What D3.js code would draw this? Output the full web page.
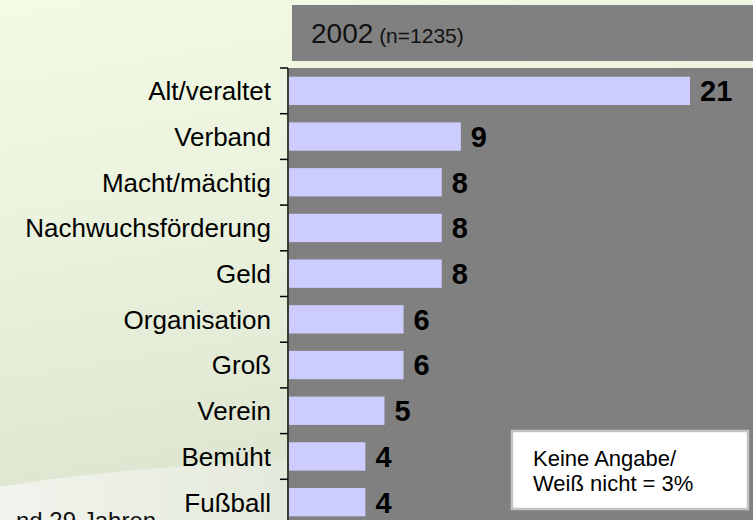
<!DOCTYPE html>
<html>
<head>
<meta charset="utf-8">
<script src="https://cdn.jsdelivr.net/npm/d3@7"></script>
<style>
  html, body { margin: 0; padding: 0; overflow: hidden; background: #eef6e0; }
  svg { display: block; }
</style>
</head>
<body>
<div id="chart"></div>
<script>
// Kategorien und Werte (Prozent), 2002
const categories = ['Alt/veraltet', 'Verband', 'Macht/mächtig', 'Nachwuchsförderung', 'Geld',
  'Organisation', 'Groß', 'Verein', 'Bemüht', 'Fußball'];
const values = [21, 9, 8, 8, 8, 6, 6, 5, 4, 4];
const headerYear = '2002';
const headerN = '(n=1235)';
const noteLines = ['Keine Angabe/', 'Weiß nicht = 3%'];
const footText = 'nd 29 Jahren';

const width = 753, height = 520;
const font = '"Liberation Sans", Arial, Helvetica, sans-serif';

const svg = d3.select('#chart').append('svg')
  .attr('width', width)
  .attr('height', height)
  .attr('viewBox', `0 0 ${width} ${height}`);

// Hintergrund: hellgrüner Verlauf
const defs = svg.append('defs');
const bg = defs.append('linearGradient').attr('id', 'bg')
  .attr('x1', 0).attr('y1', 0).attr('x2', 0.25).attr('y2', 1);
bg.append('stop').attr('offset', 0).attr('stop-color', '#f3fbe5');
bg.append('stop').attr('offset', 0.5).attr('stop-color', '#e9f1dc');
bg.append('stop').attr('offset', 1).attr('stop-color', '#dce4cf');

const swoosh = defs.append('linearGradient').attr('id', 'swoosh')
  .attr('x1', 0).attr('y1', 0).attr('x2', 1).attr('y2', 0);
swoosh.append('stop').attr('offset', 0).attr('stop-color', '#f2f4ed');
swoosh.append('stop').attr('offset', 1).attr('stop-color', '#e3e9da');

svg.append('rect').attr('width', width).attr('height', height).attr('fill', 'url(#bg)');
svg.append('path')
  .attr('d', 'M0,487 Q110,468 300,460 L300,520 L0,520 Z')
  .attr('fill', 'url(#swoosh)');

// Fußzeile (abgeschnitten)
svg.append('text')
  .attr('x', 16).attr('y', 529)
  .attr('font-family', font).attr('font-size', 24).attr('fill', '#111')
  .text(footText);

// Skalen
const plotLeft = 289, plotTop = 68;
const y = d3.scaleBand()
  .domain(categories)
  .range([plotTop, plotTop + 457])
  .paddingInner(0.38)
  .paddingOuter(0.19);
const x = d3.scaleLinear()
  .domain([0, 21])
  .range([plotLeft, 690]);

// Kopfzeile
svg.append('rect')
  .attr('x', 292).attr('y', 5).attr('width', width - 292).attr('height', 56)
  .attr('fill', '#808080');
const head = svg.append('text')
  .attr('x', 311).attr('y', 43)
  .attr('font-family', font).attr('fill', '#111');
head.append('tspan').attr('font-size', 28).text(headerYear);
head.append('tspan').attr('font-size', 21).text(' ' + headerN);

// Zeichenfläche
svg.append('rect')
  .attr('x', plotLeft).attr('y', plotTop)
  .attr('width', width - plotLeft).attr('height', height - plotTop)
  .attr('fill', '#808080');

// Balken
svg.append('g').selectAll('rect')
  .data(values)
  .join('rect')
  .attr('x', x(0))
  .attr('y', (d, i) => y(categories[i]))
  .attr('width', d => x(d) - x(0))
  .attr('height', y.bandwidth())
  .attr('fill', '#ccccff');

// Werte
svg.append('g').selectAll('text')
  .data(values)
  .join('text')
  .attr('x', d => x(d) + 10)
  .attr('y', (d, i) => y(categories[i]) + y.bandwidth() / 2)
  .attr('dy', '0.36em')
  .attr('font-family', font).attr('font-size', 29).attr('font-weight', 'bold')
  .attr('fill', '#000')
  .text(d => d);

// Achse mit Teilstrichen an den Kategoriegrenzen
const step = y.step();
const axis = svg.append('g');
axis.append('line')
  .attr('x1', plotLeft - 1).attr('x2', plotLeft - 1)
  .attr('y1', plotTop).attr('y2', height)
  .attr('stroke', '#000').attr('stroke-width', 1.5);
axis.selectAll('line.tick')
  .data(categories)
  .join('line')
  .attr('class', 'tick')
  .attr('x1', plotLeft - 9).attr('x2', plotLeft - 1)
  .attr('y1', d => y(d) - step * y.paddingInner() / 2)
  .attr('y2', d => y(d) - step * y.paddingInner() / 2)
  .attr('stroke', '#000').attr('stroke-width', 1.5);
axis.selectAll('text')
  .data(categories)
  .join('text')
  .attr('x', 271)
  .attr('y', d => y(d) + y.bandwidth() / 2)
  .attr('dy', '0.36em')
  .attr('text-anchor', 'end')
  .attr('font-family', font).attr('font-size', 26).attr('fill', '#000')
  .text(d => d);

// Hinweisbox
svg.append('rect')
  .attr('x', 512).attr('y', 431).attr('width', 236).attr('height', 78)
  .attr('fill', '#fff').attr('stroke', '#c4c4c4').attr('stroke-width', 2.5);
svg.append('g').selectAll('text')
  .data(noteLines)
  .join('text')
  .attr('x', 533)
  .attr('y', (d, i) => 466 + i * 25)
  .attr('font-family', font).attr('font-size', 22).attr('fill', '#000')
  .text(d => d);
</script>
</body>
</html>
